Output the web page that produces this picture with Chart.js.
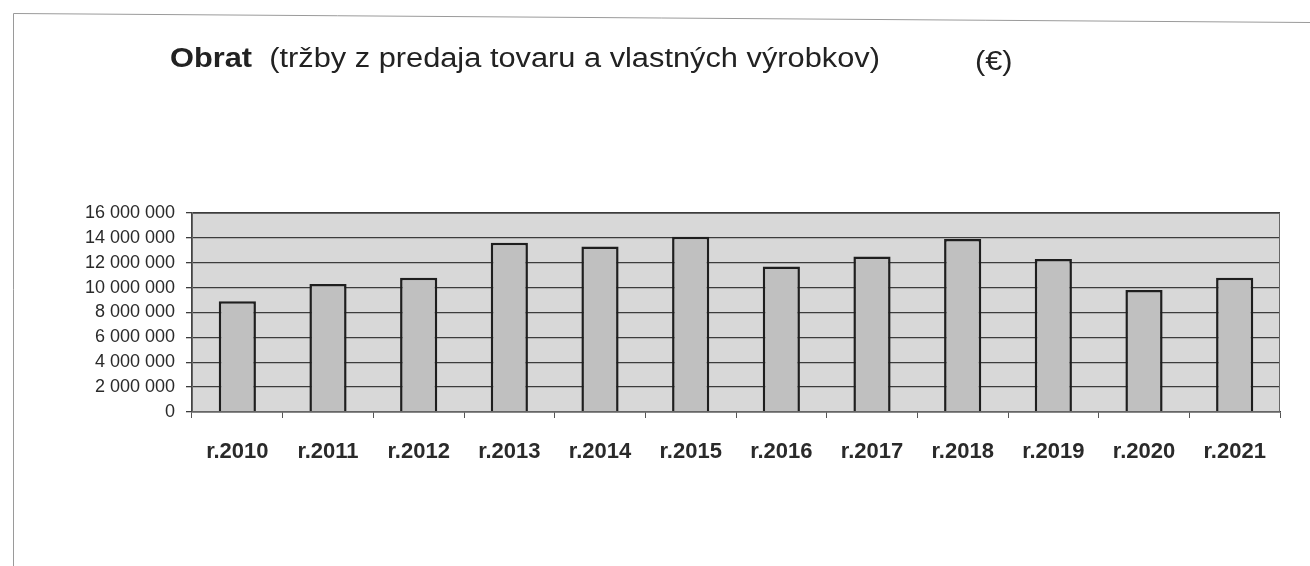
<!DOCTYPE html>
<html>
<head>
<meta charset="utf-8">
<script src="https://cdn.jsdelivr.net/npm/chart.js@4"></script>
<style>
    body { margin: 0; background: #fff; font-family: Arial, "Liberation Sans", sans-serif; }
    #wrap { position: relative; width: 1310px; height: 566px; }
    #title, #unit { position: absolute; top: 43px; font-size: 27px; color: #222; white-space: pre; transform: scaleX(1.14); transform-origin: left top; }
    #title { left: 170px; }
    #unit { left: 975px; top: 46px; }
</style>
</head>
<body>
<div id="wrap">
    <canvas id="chart" width="1310" height="566"></canvas>
    <div id="title"><b>Obrat</b>  (tržby z predaja tovaru a vlastných výrobkov)</div>
    <div id="unit">(€)</div>
</div>
<script>
// Obrat po rokoch
const years = ['r.2010', 'r.2011', 'r.2012', 'r.2013', 'r.2014', 'r.2015', 'r.2016', 'r.2017', 'r.2018', 'r.2019', 'r.2020', 'r.2021'];
const turnover = [8900000, 10300000, 10800000, 13600000, 13300000, 14100000, 11700000, 12500000, 13900000, 12300000, 9800000, 10800000];
const yMax = 16000000;
const yStep = 2000000;

// page frame + grey plot background
const framePlugin = {
    id: 'frame',
    beforeDraw(chart) {
        const ctx = chart.ctx;
        const a = chart.chartArea;
        ctx.save();
        ctx.strokeStyle = '#9a9a9a';
        ctx.lineWidth = 1;
        ctx.beginPath();
        ctx.moveTo(13.5, 566);
        ctx.lineTo(13.5, 13.5);
        ctx.lineTo(1310, 22.5);
        ctx.stroke();
        ctx.fillStyle = '#d8d8d8';
        ctx.fillRect(a.left, a.top, a.right - a.left, a.bottom - a.top);
        ctx.restore();
    },
    afterDatasetsDraw(chart) {
        const ctx = chart.ctx;
        const a = chart.chartArea;
        ctx.save();
        ctx.strokeStyle = '#666';
        ctx.lineWidth = 1;
        ctx.strokeRect(a.left + 0.5, a.top + 0.5, a.right - a.left - 1, a.bottom - a.top - 1);
        ctx.restore();
    }
};

new Chart(document.getElementById('chart'), {
    type: 'bar',
    data: {
        labels: years,
        datasets: [{
            data: turnover,
            backgroundColor: '#c0c0c0',
            borderColor: '#1e1e1e',
            borderWidth: 2.5,
            barPercentage: 0.41,
            categoryPercentage: 1
        }]
    },
    options: {
        responsive: false,
        animation: false,
        layout: { padding: { top: 213, right: 30, bottom: 94, left: 0 } },
        plugins: { legend: { display: false }, tooltip: { enabled: false } },
        scales: {
            x: {
                grid: { offset: true, drawOnChartArea: false, drawTicks: true, tickLength: 6, color: '#555' },
                border: { color: '#444', width: 1.5 },
                ticks: { color: '#2a2a2a', font: { family: 'Arial', size: 22, weight: 'bold' }, padding: 21 },
                afterFit(s) { s.height = 60; }
            },
            y: {
                min: 0,
                max: yMax,
                ticks: {
                    stepSize: yStep,
                    color: '#2a2a2a',
                    font: { family: 'Arial', size: 18 },
                    padding: 11,
                    callback: v => v.toLocaleString('en-US').replace(/,/g, ' ')
                },
                grid: { color: '#3c3c3c', lineWidth: 1.3, tickLength: 6 },
                border: { color: '#444', width: 1.5 },
                afterFit(s) { s.width = 192; }
            }
        }
    },
    plugins: [framePlugin]
});
</script>
</body>
</html>
